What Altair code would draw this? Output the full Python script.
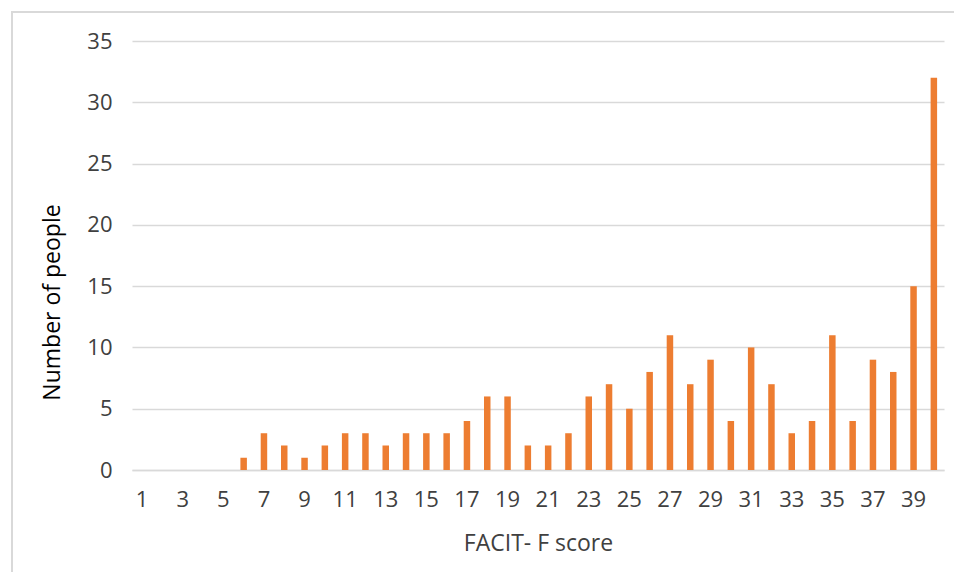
import altair as alt
import pandas as pd

scores = list(range(1, 41))
counts = [0, 0, 0, 0, 0, 1, 3, 2, 1, 2,
          3, 3, 2, 3, 3, 3, 4, 6, 6, 2,
          2, 3, 6, 7, 5, 8, 11, 7, 9, 4,
          10, 7, 3, 4, 11, 4, 9, 8, 15, 32]
x_labels = list(range(1, 41, 2))
y_ticks = [0, 5, 10, 15, 20, 25, 30, 35]

df = pd.DataFrame({"score": scores, "count": counts})

FONT = "Open Sans"

bars = alt.Chart(df).mark_bar(color="#ED7D31").encode(
    x=alt.X("score:O",
            scale=alt.Scale(paddingInner=0.68, paddingOuter=0.34),
            axis=alt.Axis(values=x_labels, labelAngle=0, title="FACIT- F score",
                          domainColor="#D9D9D9", domainWidth=1.5, ticks=False,
                          labelPadding=19, labelFontSize=22, labelColor="#404040",
                          labelFont=FONT, titleFont=FONT, titleFontSize=23,
                          titleFontWeight="normal", titleColor="#404040",
                          titleBaseline="middle", titleY=73)),
    y=alt.Y("count:Q",
            scale=alt.Scale(domain=[0, 35], nice=False),
            axis=alt.Axis(values=y_ticks, title="Number of people",
                          domain=False, ticks=False, gridColor="#D9D9D9", gridWidth=1.5,
                          labelPadding=20, labelFontSize=22, labelColor="#404040",
                          labelFont=FONT, titleFont=FONT, titleFontSize=23,
                          titleFontWeight="normal", titleColor="#000000",
                          titleBaseline="middle", titleAlign="center",
                          titleX=-80, titleY=261, titleAngle=-90)),
)

frame = alt.Chart(pd.DataFrame({"a": [0]})).mark_rect(
    fill="transparent", stroke="#D9D9D9", strokeWidth=2
).encode(
    x=alt.value(-120), x2=alt.value(900),
    y=alt.value(-29), y2=alt.value(600),
)

chart = alt.layer(frame, bars).properties(
    width=812, height=429,
    autosize=alt.AutoSizeParams(type="none"),
    padding={"left": 124, "top": 33, "right": 10, "bottom": 102},
).configure_view(stroke=None)

chart.save("out.html", embed_options={"renderer": "svg", "actions": False})
